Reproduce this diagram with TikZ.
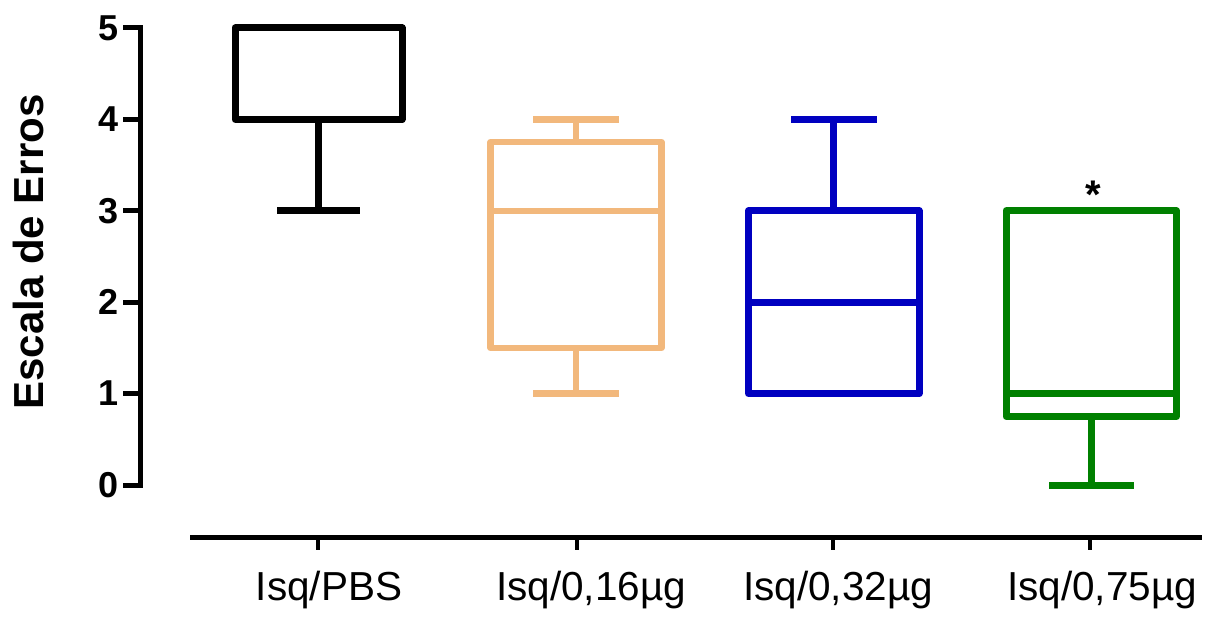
\documentclass[tikz,border=0pt]{standalone}
\usepackage{fontspec}
\setmainfont{Liberation Sans}
\definecolor{tan}{RGB}{242,184,124}
\definecolor{dblue}{RGB}{0,0,192}
\definecolor{dgreen}{RGB}{0,128,0}
\tikzset{
  boxln/.style={line width=7pt, line join=round},
  axisln/.style={line width=5pt, line join=miter},
  tickln/.style={line width=4.5pt},
  ylab/.style={anchor=east, inner sep=0pt, font=\fontsize{36}{36}\selectfont\bfseries},
  xlab/.style={anchor=base, inner sep=0pt, font=\fontsize{40.5}{40.5}\selectfont},
}
\begin{document}
\begin{tikzpicture}[x=1pt,y=-1pt]
\useasboundingbox (0,0) rectangle (1218,617);
% y mapping: y = 485 - 91.4 v
% axes
\draw[axisln] (123,28) -- (140,28) -- (140,485) -- (123,485);
\foreach \v in {1,2,3,4}{\draw[axisln] (123,{485-91.4*\v}) -- (140,{485-91.4*\v});}
\foreach \v in {0,...,5}{\node[ylab] (yl\v) at (119,{485-91.4*\v}) {\v};}
\node[rotate=90, inner sep=0pt, font=\fontsize{42}{42}\selectfont\bfseries] (ytitle) at (28,252) {Escala de Erros};
\draw[axisln] (190,537) -- (1202,537);
\foreach \x in {318,577,833,1090}{\draw[tickln] (\x,537) -- (\x,550);}
\node[xlab] (l1) at (329,600) {Isq/PBS};
\node[xlab] (l2) at (591,600) {Isq/0,16µg};
\node[xlab] (l3) at (838,600) {Isq/0,32µg};
\node[xlab] (l4) at (1102,600) {Isq/0,75µg};
% box 1 black
\draw[boxln] (235,28) rectangle (402,119.4);
\draw[boxln] (318,119.4) -- (318,210.8);
\draw[boxln] (277,210.8) -- (360,210.8);
% box 2 tan
\begin{scope}[tan]
\draw[boxln, line width=6.5pt] (490.5,142.2) rectangle (661.5,347.9);
\draw[line width=6.5pt] (490.5,210.8) -- (661.5,210.8);
\draw[line width=6.5pt] (576,142.2) -- (576,119.4);
\draw[line width=6.5pt] (533,119.4) -- (619,119.4);
\draw[line width=6.5pt] (576,347.9) -- (576,393.6);
\draw[line width=6.5pt] (533,393.6) -- (619,393.6);
\end{scope}
% box 3 blue
\begin{scope}[dblue]
\draw[boxln] (748.5,210.8) rectangle (919,393.6);
\draw[line width=7pt] (748.5,302.2) -- (919,302.2);
\draw[line width=7pt] (833,210.8) -- (833,119.4);
\draw[line width=7pt] (791,119.4) -- (877,119.4);
\end{scope}
% box 4 green
\begin{scope}[dgreen]
\draw[boxln] (1006,210.8) rectangle (1176.5,416.5);
\draw[line width=6.5pt] (1006,393.6) -- (1176.5,393.6);
\draw[line width=7pt] (1091,416.5) -- (1091,485);
\draw[line width=7pt] (1049,485) -- (1134,485);
\end{scope}
\node[inner sep=0pt, font=\fontsize{40}{40}\selectfont\bfseries] (star) at (1093,195) {*};
\end{tikzpicture}
\end{document}
